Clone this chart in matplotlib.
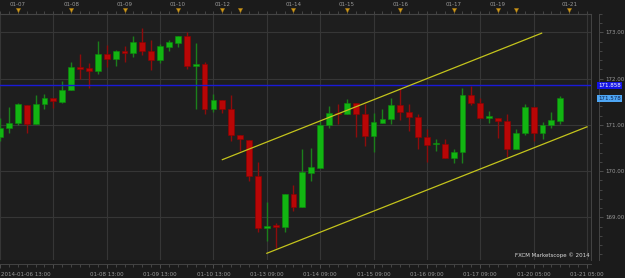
import matplotlib
matplotlib.use("Agg")
import matplotlib.pyplot as plt
import matplotlib.transforms as mtrans
import numpy as np

# 4-hour candles
opens = [170.73, 170.94, 171.05, 171.44, 171.03, 171.46, 171.58, 171.50, 171.75, 172.26,
         172.23, 172.16, 172.53, 172.43, 172.59, 172.56, 172.79, 172.61, 172.40, 172.68,
         172.77, 172.93, 172.28, 172.32, 171.34, 171.54, 171.34, 170.78, 170.68, 169.89,
         168.77, 168.81, 168.80, 169.50, 169.23, 169.96, 170.08, 171.00, 171.25, 171.24,
         171.47, 171.24, 170.77, 171.05, 171.12, 171.43, 171.28, 171.18, 170.73, 170.58,
         170.59, 170.28, 170.41, 171.65, 171.47, 171.16, 171.16, 171.09, 170.49, 170.82,
         171.39, 170.82, 170.99, 171.09]
highs = [171.16, 171.39, 171.47, 171.44, 171.65, 171.66, 171.58, 171.96, 172.36, 172.53,
         172.33, 172.81, 172.74, 172.63, 172.70, 172.93, 173.09, 172.84, 172.76, 172.84,
         172.93, 173.00, 172.77, 172.36, 171.66, 171.54, 171.64, 170.78, 170.68, 170.19,
         169.33, 168.89, 169.51, 169.71, 170.48, 170.51, 171.09, 171.41, 171.45, 171.57,
         171.47, 171.45, 171.25, 171.34, 171.58, 171.78, 171.45, 171.23, 170.91, 170.70,
         170.70, 170.49, 171.80, 171.84, 171.59, 171.30, 171.16, 171.23, 170.92, 171.45,
         171.39, 171.07, 171.28, 171.63]
lows = [170.66, 170.82, 171.00, 170.82, 171.03, 171.34, 171.37, 171.48, 171.75, 172.00,
        171.80, 172.10, 172.25, 172.27, 172.36, 172.48, 172.52, 172.18, 172.34, 172.61,
        172.68, 172.20, 171.34, 171.23, 171.28, 171.25, 170.66, 170.44, 169.78, 168.68,
        168.50, 168.33, 168.68, 169.15, 169.23, 169.78, 170.08, 170.94, 171.03, 171.24,
        170.73, 170.55, 170.42, 171.05, 171.03, 171.11, 170.86, 170.47, 170.19, 170.43,
        170.28, 170.18, 170.17, 171.43, 171.16, 171.04, 170.71, 170.30, 170.49, 170.78,
        170.66, 170.70, 170.94, 171.03]
closes = [170.94, 171.05, 171.45, 171.03, 171.46, 171.58, 171.51, 171.75, 172.26, 172.22,
          172.16, 172.53, 172.43, 172.59, 172.56, 172.79, 172.61, 172.40, 172.70, 172.79,
          172.93, 172.28, 172.32, 171.35, 171.54, 171.34, 170.78, 170.69, 169.89, 168.77,
          168.81, 168.80, 169.51, 169.23, 169.98, 170.10, 171.00, 171.25, 171.23, 171.47,
          171.24, 170.77, 171.07, 171.12, 171.43, 171.27, 171.18, 170.73, 170.57, 170.59,
          170.28, 170.41, 171.65, 171.47, 171.16, 171.18, 171.09, 170.49, 170.82, 171.39,
          170.82, 171.00, 171.10, 171.578]

first_label = "2014-01-06 13:00"
bottom_ticks = [0, 6, 12, 18, 24, 30, 36, 42, 48, 54, 60, 66]
bottom_labels = ["", "", "01-08 13:00", "01-09 13:00", "01-10 13:00",
                 "01-13 09:00", "01-14 09:00", "01-15 09:00", "01-16 09:00",
                 "01-17 09:00", "01-20 05:00", "01-21 05:00"]
top_ticks = [2, 8, 14, 20, 25, 33, 39, 45, 51, 56, 64]
top_labels = ["01-07", "01-08", "01-09", "01-10", "01-12", "01-14", "01-15",
              "01-16", "01-17", "01-19", "01-21"]
event_marks = [2, 8, 14, 20, 25, 27, 33, 39, 45, 51, 56, 58, 64]

level_line = 171.858
last_price = closes[-1]
upper_channel = ([25, 60.9], [170.25, 172.985])
lower_channel = ([30, 66], [168.225, 170.96])

BG = "#1e1e1e"
GRID = "#363636"
TXT = "#9a9a9a"
UP, DOWN = "#12b512", "#b80606"
UP_WICK, DOWN_WICK = "#1b7f1b", "#8e0c0c"
FS = 4.0

fig = plt.figure(figsize=(6.25, 2.78), dpi=100, facecolor="#1b1b1b")
ax = fig.add_axes([0.0, 18 / 278, 591 / 625, 246 / 278])
ax.set_facecolor(BG)

x = np.arange(len(opens))
o = np.array(opens)
c = np.array(closes)
up = c >= o
body_lo = np.minimum(o, c)
body_h = np.maximum(np.abs(c - o), 0.03)

ax.vlines(x[up], np.array(lows)[up], np.array(highs)[up], color=UP_WICK, lw=1.0, zorder=2)
ax.vlines(x[~up], np.array(lows)[~up], np.array(highs)[~up], color=DOWN_WICK, lw=1.0, zorder=2)
ax.bar(x[up], body_h[up], bottom=body_lo[up], width=0.66, color=UP,
       edgecolor="#0c8c0c", linewidth=0.4, zorder=3)
ax.bar(x[~up], body_h[~up], bottom=body_lo[~up], width=0.66, color=DOWN,
       edgecolor="#900000", linewidth=0.4, zorder=3)

ax.axhline(level_line, color="#1a1ad8", lw=1.0, zorder=4)
ax.plot(*upper_channel, color="#c4c41c", lw=0.9, zorder=4)
ax.plot(*lower_channel, color="#c4c41c", lw=0.9, zorder=4)

ax.set_xlim(0, 66.45)
ax.set_ylim(168.08, 173.365)

# axes, ticks, grid
ax.set_xticks(bottom_ticks)
ax.set_xticklabels(bottom_labels)
ax.set_xticks(np.arange(0, 67, 1), minor=True)
ax.set_yticks([169, 170, 171, 172, 173])
ax.set_yticklabels(["169.00", "170.00", "171.00", "172.00", "173.00"])
ax.set_yticks(np.arange(168.2, 173.4, 0.2), minor=True)
ax.yaxis.tick_right()
ax.grid(True, which="major", color=GRID, lw=0.8)
ax.tick_params(axis="x", which="major", colors="#555555", labelcolor=TXT,
               labelsize=FS, length=3, width=0.6, pad=2.6)
ax.tick_params(axis="x", which="minor", colors="#555555", length=2, width=0.5)
ax.tick_params(axis="y", which="major", colors="#555555", labelcolor=TXT,
               labelsize=FS, length=3, width=0.6, pad=1.5)
ax.tick_params(axis="y", which="minor", colors="#555555", length=1.8, width=0.5)
for name, sp in ax.spines.items():
    sp.set_color("#444444")
    sp.set_linewidth(0.7)
ax.spines["left"].set_visible(False)
ax.spines["right"].set_position(("outward", 6))
ax.spines["bottom"].set_position(("outward", 3))

xtrans = ax.get_xaxis_transform()
ax.text(bottom_ticks[0] + 0.1, -0.05, first_label, transform=xtrans, ha="left",
        va="top", fontsize=FS, color=TXT, clip_on=False)

top = ax.secondary_xaxis("top")
top.set_xticks(top_ticks)
top.set_xticklabels(top_labels)
top.set_xticks(np.arange(0, 67, 1), minor=True)
top.tick_params(which="major", colors="#555555", labelcolor=TXT, labelsize=FS,
                length=2, width=0.5, pad=3.0)
top.tick_params(which="minor", colors="#555555", length=2, width=0.5)
top.spines["top"].set_color("#444444")

ax.plot(event_marks, [1.017] * len(event_marks), "v", ms=3.2, color="#d09a1c",
        mec="#8a6410", mew=0.3, transform=xtrans, clip_on=False, zorder=6)

# frame line at the right edge of the plot
ax.plot([1, 1], [0, 1], color="#444444", lw=0.7, transform=ax.transAxes, clip_on=False)

ytrans = mtrans.blended_transform_factory(ax.transAxes, ax.transData)
ax.text(1.0125, level_line, "171.858", transform=ytrans, ha="left", va="center",
        fontsize=FS, color="white", clip_on=False, zorder=7,
        bbox=dict(boxstyle="square,pad=0.2", fc="#1414e6", ec="none"))
ax.text(1.0125, last_price, "171.578", transform=ytrans, ha="left", va="center",
        fontsize=FS, color="#0b1c48", clip_on=False, zorder=7,
        bbox=dict(boxstyle="square,pad=0.2", fc="#4ea6f4", ec="none"))

ax.text(0.998, 0.01, "FXCM Marketscope © 2014", transform=ax.transAxes,
        ha="right", va="bottom", fontsize=FS, color="#dcdcdc", zorder=7)

fig.savefig("out.png", dpi=100, facecolor=fig.get_facecolor())
